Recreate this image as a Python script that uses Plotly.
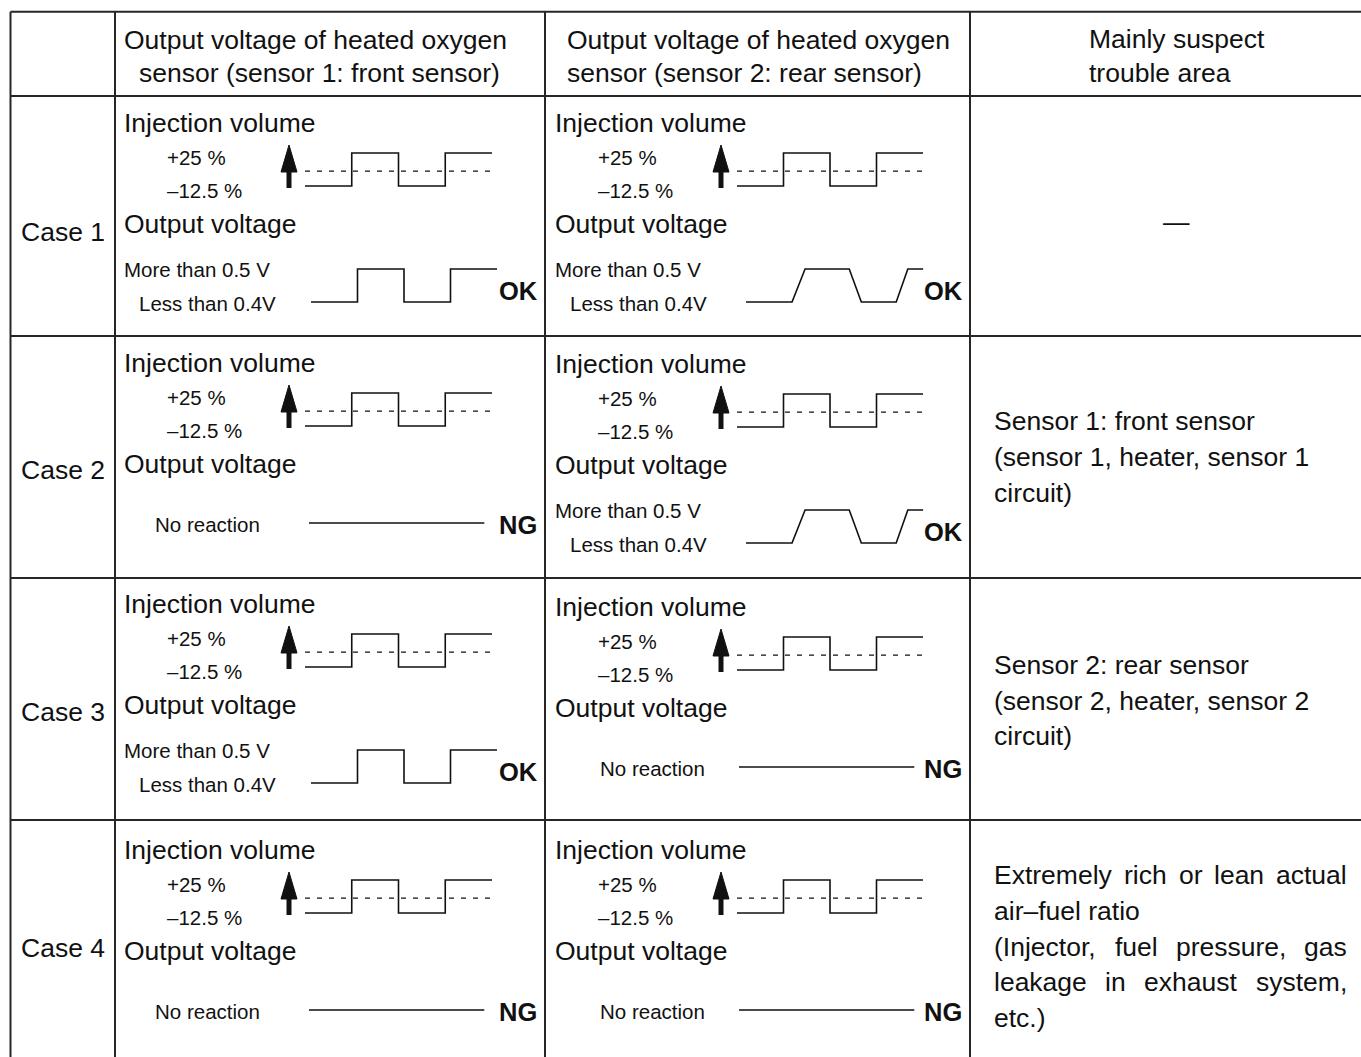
import plotly.graph_objects as go

# ---------------- data ----------------
cases = ["Case 1", "Case 2", "Case 3", "Case 4"]
header_front = ["Output voltage of heated oxygen", "sensor (sensor 1: front sensor)"]
header_rear = ["Output voltage of heated oxygen", "sensor (sensor 2: rear sensor)"]
header_trouble = ["Mainly suspect", "trouble area"]
injection_title = "Injection volume"
injection_levels = ["+25 %", "–12.5 %"]
output_title = "Output voltage"
voltage_levels = ["More than 0.5 V", "Less than 0.4V"]
no_reaction_text = "No reaction"

# injection volume command (time in half periods, level 0 = -12.5 %, 1 = +25 %)
inj_t = [0, 1, 1, 2, 2, 3, 3, 4]
inj_v = [0, 0, 1, 1, 0, 0, 1, 1]
inj_mid_t = [0, 4]
inj_mid_v = [0.45, 0.45]
# sensor responses (level 0 = less than 0.4 V, 1 = more than 0.5 V)
front_t = [0, 1, 1, 2, 2, 3, 3, 4]
front_v = [0, 0, 1, 1, 0, 0, 1, 1]
rear_t = [0, 0.99, 1.27, 2.22, 2.48, 3.23, 3.48, 3.81]
rear_v = [0, 0, 1, 1, 0, 0, 1, 1]
flat_t = [0, 3.77]
flat_v = [0, 0]

front_reacts = [True, False, True, False]
rear_reacts = [True, True, False, False]
front_judgement = ["OK", "NG", "OK", "NG"]
rear_judgement = ["OK", "OK", "NG", "NG"]

trouble_case1 = ["—"]
trouble_case2 = ["Sensor 1: front sensor", "(sensor 1, heater, sensor 1", "circuit)"]
trouble_case3 = ["Sensor 2: rear sensor", "(sensor 2, heater, sensor 2", "circuit)"]
trouble_case4 = ["Extremely rich or lean actual", "air–fuel ratio",
                 "(Injector, fuel pressure, gas", "leakage in exhaust system,", "etc.)"]
trouble_case4_justified = [True, False, True, True, False]

# ---------------- layout / style ----------------
W, H = 1361, 1057
FONT = "Liberation Sans, Arial, Helvetica, sans-serif"
BIG = 26.5
SMALL = 20.5
JUDGE = 25.5
INK = "#111111"
GRID = "#262626"

col_x = [10.5, 115, 545, 970]
row_y = [11.7, 96, 336, 578, 820]
row_tops = row_y[1:]

col_geo = {
    "front": dict(title_x=123, pct_x=166, arrow_x=289, inj_x0=305, inj_unit=46.75,
                  more_x=123, less_x=138, out_x0=311, out_unit=46.5, judge_x=498,
                  nr_x=154, flat_x0=309, dy=[0, 0, -1, 3]),
    "rear": dict(title_x=554, pct_x=597, arrow_x=721, inj_x0=737, inj_unit=46.5,
                 more_x=554, less_x=569, out_x0=746, out_unit=46.5, judge_x=923,
                 nr_x=599, flat_x0=739, dy=[0, 1, 2, 3]),
}
case_label_y = [232, 470, 712, 948]

# Arial / Liberation Sans advance widths (1/1000 em) for justification
AW = {' ': 278, 'a': 556, 'b': 556, 'c': 500, 'd': 556, 'e': 556, 'f': 278, 'g': 556,
      'h': 556, 'i': 222, 'j': 222, 'k': 500, 'l': 222, 'm': 833, 'n': 556, 'o': 556,
      'p': 556, 'q': 556, 'r': 333, 's': 500, 't': 278, 'u': 556, 'v': 500, 'w': 722,
      'x': 500, 'y': 500, 'z': 500, 'E': 667, 'I': 278, '(': 333, ')': 333, ',': 278,
      '.': 278, '–': 556}


def text_width(s, size):
    return sum(AW.get(ch, 556) for ch in s) * size / 1000.0


fig = go.Figure()
annotations = []


def txt(x, y, s, size, anchor="left", bold=False):
    annotations.append(dict(
        x=x, y=y, xref="x", yref="y", text=f"<b>{s}</b>" if bold else s,
        showarrow=False, xanchor=anchor, yanchor="middle", borderpad=0,
        font=dict(family=FONT, size=size, color=INK)))


def line(xs, ys, width=1.6, dash="solid", color=INK):
    fig.add_trace(go.Scatter(x=xs, y=ys, mode="lines", hoverinfo="skip",
                             line=dict(color=color, width=width, dash=dash)))


# table grid
gx, gy = [], []
for yv in row_y:
    gx += [col_x[0], W + 5, None]
    gy += [yv, yv, None]
for xv in col_x:
    gx += [xv, xv, None]
    gy += [row_y[0], H + 5, None]
line(gx, gy, width=2, color=GRID)

# headers
txt(123, 40, header_front[0], BIG)
txt(138, 73, header_front[1], BIG)
txt(566, 40, header_rear[0], BIG)
txt(566, 73, header_rear[1], BIG)
txt(1088, 39, header_trouble[0], BIG)
txt(1088, 73, header_trouble[1], BIG)


def cell(key, r, reacts, t_resp, v_resp, judgement):
    g = col_geo[key]
    R = row_tops[r] + g["dy"][r]
    txt(g["title_x"], R + 27, injection_title, BIG)
    txt(g["pct_x"], R + 61, injection_levels[0], SMALL)
    txt(g["pct_x"], R + 94, injection_levels[1], SMALL)
    # arrow
    ax = g["arrow_x"]
    fig.add_trace(go.Scatter(x=[ax - 8, ax + 8, ax, ax - 8], y=[R + 76, R + 76, R + 49, R + 76],
                             mode="lines", fill="toself", fillcolor=INK, hoverinfo="skip",
                             line=dict(color=INK, width=1)))
    line([ax, ax], [R + 74, R + 92], width=5)
    # injection waveform
    lo, hi = R + 90, R + 57
    line([g["inj_x0"] + t * g["inj_unit"] for t in inj_t],
         [lo + v * (hi - lo) for v in inj_v], width=1.6)
    line([g["inj_x0"] + t * g["inj_unit"] for t in inj_mid_t],
         [lo + v * (hi - lo) for v in inj_mid_v], width=1.3, dash="5px,7px")
    txt(g["title_x"], R + 128, output_title, BIG)
    if reacts:
        txt(g["more_x"], R + 173, voltage_levels[0], SMALL)
        txt(g["less_x"], R + 207, voltage_levels[1], SMALL)
        olo, ohi = R + 206, R + 173
        line([g["out_x0"] + t * g["out_unit"] for t in t_resp],
             [olo + v * (ohi - olo) for v in v_resp], width=1.6)
        txt(g["judge_x"], R + 195, judgement, JUDGE, bold=True)
    else:
        txt(g["nr_x"], R + 188, no_reaction_text, SMALL)
        line([g["flat_x0"] + t * g["out_unit"] for t in flat_t],
             [R + 187 + v for v in flat_v], width=1.6)
        txt(g["judge_x"], R + 189, judgement, JUDGE, bold=True)


for r, name in enumerate(cases):
    txt(63, case_label_y[r], name, BIG, anchor="center")
    cell("front", r, front_reacts[r], front_t, front_v, front_judgement[r])
    cell("rear", r, rear_reacts[r], rear_t, rear_v, rear_judgement[r])

# trouble area column
txt(1176, 222, trouble_case1[0], BIG, anchor="center")
for i, s in enumerate(trouble_case2):
    txt(993, 421 + i * 36, s, BIG)
for i, s in enumerate(trouble_case3):
    txt(993, 665 + i * 35.5, s, BIG)
LEFT, RIGHT = 993, 1346
for i, s in enumerate(trouble_case4):
    y = 875 + i * 35.8
    if trouble_case4_justified[i]:
        words = s.split(" ")
        total = sum(text_width(w, BIG) for w in words)
        gap = (RIGHT - LEFT - total) / (len(words) - 1)
        x = LEFT
        for w in words:
            txt(x, y, w, BIG)
            x += text_width(w, BIG) + gap
    else:
        txt(LEFT, y, s, BIG)

fig.update_layout(
    width=W, height=H, autosize=False,
    margin=dict(l=0, r=0, t=0, b=0, pad=0),
    paper_bgcolor="white", plot_bgcolor="white",
    showlegend=False, hovermode=False,
    annotations=annotations,
    xaxis=dict(range=[0, W], visible=False, fixedrange=True),
    yaxis=dict(range=[H, 0], visible=False, fixedrange=True),
)

fig.write_html("out.html", config={"displayModeBar": False},
               post_script="document.body.style.margin='0';document.body.style.overflow='hidden';")
